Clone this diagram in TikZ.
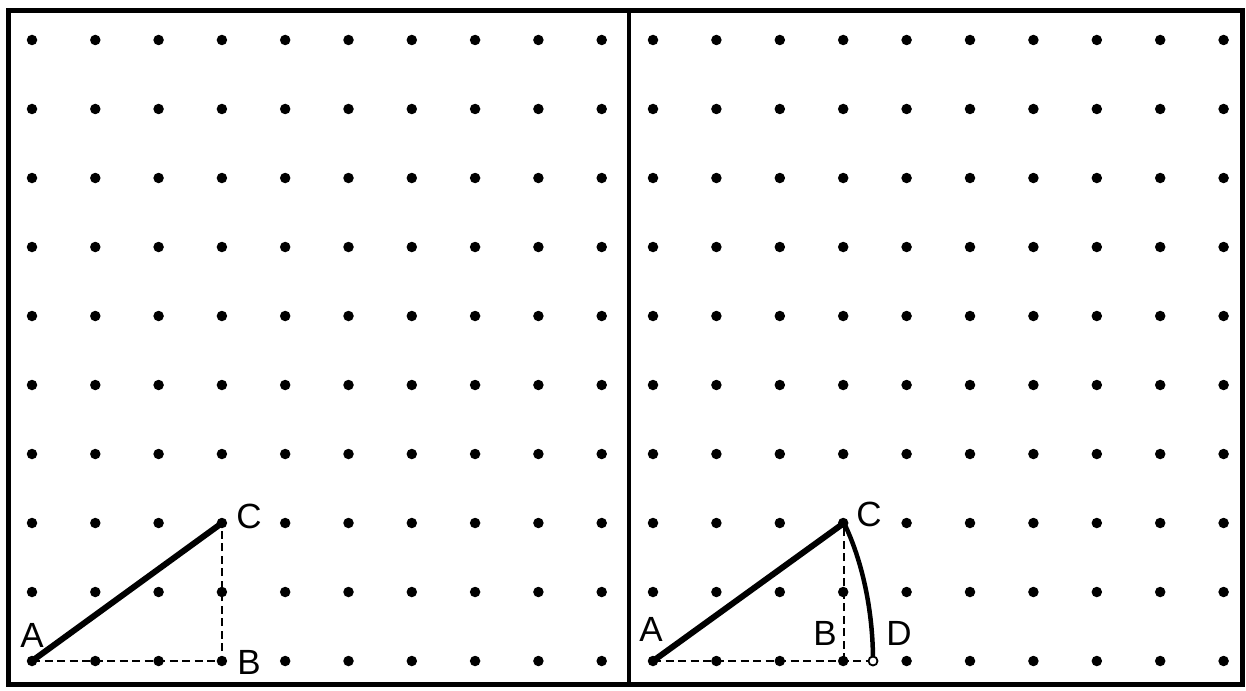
\documentclass[tikz,border=0pt]{standalone}
\usepackage{fontspec}
\setmainfont{Liberation Sans}
\begin{document}
\begin{tikzpicture}[x=1pt,y=-1pt,
  dotmark/.style={circle,fill=black,inner sep=0pt,minimum size=10.5pt},
  opendot/.style={circle,draw=black,fill=white,line width=1.8pt,inner sep=0pt,minimum size=9pt},
  lbl/.style={font=\fontsize{35}{35}\selectfont,inner sep=0pt},
  frameline/.style={line width=5pt},
  side/.style={line width=6pt,line cap=round},
  dashside/.style={line width=2.6pt,dash pattern=on 8pt off 4.5pt},
  arcline/.style={line width=4.5pt}]
\useasboundingbox (0,0) rectangle (1246,690);
\fill[white] (0,0) rectangle (1246,690);
% frame
\draw[frameline] (8,11) rectangle (1242,684);
\draw[line width=4.4pt] (629,11) -- (629,684);
% dot grids
\foreach \i in {0,...,9}{
  \foreach \j in {0,...,9}{
    \node[dotmark] (L\i-\j) at ({32+63.3*\i},{40+69.0*\j}) {};
    \node[dotmark] (R\i-\j) at ({653+63.4*\i},{40+69.0*\j}) {};
  }
}
% left panel points
\coordinate (LA) at (32,661);
\coordinate (LB) at (222,661);
\coordinate (LC) at (222,523);
\draw[dashside] (LA) -- (LB) -- (LC);
\draw[side] (LA) -- (LC);
\node[lbl] (lA) at (32,635) {A};
\node[lbl] (lB) at (249,662) {B};
\node[lbl] (lC) at (249,516) {C};
% right panel points
\coordinate (RA) at (653,661);
\coordinate (RB) at (844,661);
\coordinate (RC) at (844,523);
\coordinate (RD) at (873,661);
\draw[dashside] (RA) -- (RD);
\draw[dashside] (RB) -- (RC);
\draw[side] (RA) -- (RC);
\draw[arcline] (RC) .. controls (862,560) and (873,610) .. (RD);
\node[opendot] (Dpt) at (RD) {};
\node[lbl] (rA) at (651,629) {A};
\node[lbl] (rB) at (825,633) {B};
\node[lbl] (rC) at (869,514) {C};
\node[lbl] (rD) at (899,633) {D};
\end{tikzpicture}
\end{document}
